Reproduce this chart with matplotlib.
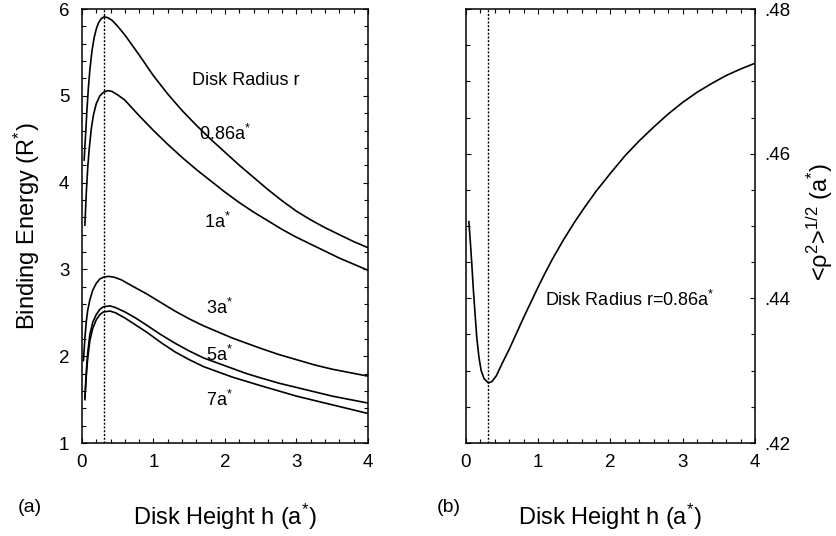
import matplotlib
matplotlib.use('Agg')
import matplotlib.pyplot as plt
from matplotlib.ticker import MultipleLocator, FuncFormatter

plt.rcParams['font.family'] = ['Liberation Sans', 'DejaVu Sans']
plt.rcParams['mathtext.fontset'] = 'custom'
plt.rcParams['mathtext.rm'] = 'Liberation Sans'
plt.rcParams['mathtext.it'] = 'Liberation Sans:italic'
plt.rcParams['mathtext.bf'] = 'Liberation Sans:bold'

# (a) binding energy vs disk height, one curve per disk radius
h_086 = [0.03, 0.05, 0.07, 0.09, 0.11, 0.14, 0.17, 0.2, 0.23, 0.27, 0.31, 0.36, 0.42, 0.5, 0.6, 0.8, 1.0,
         1.2, 1.4, 1.6, 1.8, 2.0, 2.2, 2.4, 2.6, 2.8, 3.0, 3.2, 3.4, 3.6, 3.8, 4.0]
E_086 = [4.26, 4.55, 4.85, 5.10, 5.30, 5.52, 5.67, 5.77, 5.84, 5.89, 5.91, 5.90, 5.87, 5.80, 5.70, 5.47, 5.23,
         5.02, 4.83, 4.66, 4.50, 4.35, 4.20, 4.06, 3.92, 3.79, 3.67, 3.57, 3.48, 3.40, 3.32, 3.25]

h_1 = [0.04, 0.06, 0.08, 0.1, 0.13, 0.16, 0.2, 0.25, 0.3, 0.36, 0.42, 0.5, 0.6, 0.8, 1.0, 1.2, 1.4, 1.6,
       1.8, 2.0, 2.2, 2.4, 2.6, 2.8, 3.0, 3.2, 3.4, 3.6, 3.8, 4.0]
E_1 = [3.51, 3.88, 4.17, 4.38, 4.62, 4.78, 4.91, 5.00, 5.04, 5.06, 5.05, 5.01, 4.95, 4.77, 4.60, 4.44, 4.29, 4.15,
       4.02, 3.89, 3.77, 3.66, 3.56, 3.46, 3.37, 3.29, 3.21, 3.13, 3.06, 2.99]

h_3 = [0.02, 0.04, 0.06, 0.08, 0.11, 0.15, 0.2, 0.25, 0.3, 0.37, 0.45, 0.55, 0.7, 0.9, 1.1, 1.3, 1.5, 1.7,
       1.9, 2.1, 2.3, 2.5, 2.75, 3.0, 3.25, 3.5, 3.75, 4.0]
E_3 = [1.95, 2.20, 2.40, 2.53, 2.65, 2.76, 2.84, 2.89, 2.91, 2.92, 2.91, 2.88, 2.81, 2.72, 2.62, 2.52, 2.43, 2.35,
       2.28, 2.21, 2.15, 2.09, 2.02, 1.96, 1.90, 1.85, 1.81, 1.77]

h_5 = [0.04, 0.06, 0.08, 0.11, 0.15, 0.2, 0.25, 0.3, 0.39, 0.47, 0.6, 0.75, 0.9, 1.1, 1.3, 1.5, 1.7, 1.9,
       2.1, 2.3, 2.5, 2.75, 3.0, 3.25, 3.5, 3.75, 4.0]
E_5 = [1.52, 1.82, 2.04, 2.25, 2.39, 2.48, 2.54, 2.57, 2.58, 2.56, 2.51, 2.44, 2.36, 2.25, 2.15, 2.06, 1.98, 1.92,
       1.86, 1.80, 1.75, 1.69, 1.64, 1.59, 1.54, 1.50, 1.46]

h_7 = [0.04, 0.06, 0.08, 0.11, 0.15, 0.2, 0.25, 0.3, 0.39, 0.47, 0.6, 0.75, 0.9, 1.1, 1.3, 1.5, 1.7, 1.9,
       2.1, 2.3, 2.5, 2.75, 3.0, 3.25, 3.5, 3.75, 4.0]
E_7 = [1.50, 1.77, 1.98, 2.18, 2.32, 2.42, 2.48, 2.51, 2.52, 2.50, 2.44, 2.36, 2.28, 2.16, 2.05, 1.96, 1.88, 1.82,
       1.76, 1.71, 1.66, 1.60, 1.54, 1.49, 1.44, 1.39, 1.34]

curve_labels = ['0.86a$^{*}$', '1a$^{*}$', '3a$^{*}$', '5a$^{*}$', '7a$^{*}$']
label_h = [1.64, 1.71, 1.73, 1.73, 1.73]
label_E = [4.56, 3.55, 2.56, 2.01, 1.50]

# (b) <rho^2>^(1/2) vs disk height, r = 0.86a*
h_rho = [0.04, 0.06, 0.08, 0.1, 0.125, 0.15, 0.18, 0.21, 0.25, 0.31, 0.36, 0.42, 0.5, 0.6, 0.7, 0.8, 0.9,
         1.0, 1.1, 1.2, 1.35, 1.5, 1.65, 1.8, 2.0, 2.2, 2.4, 2.6, 2.8, 3.0, 3.2, 3.4, 3.6, 3.8, 4.0]
rho = [0.4506, 0.4478, 0.4448, 0.4415, 0.4379, 0.4345, 0.4318, 0.4300, 0.4289, 0.4283, 0.4285, 0.4293,
       0.4310, 0.4330, 0.4352, 0.4374, 0.4395, 0.4416, 0.4436, 0.4455, 0.4481, 0.4505, 0.4527, 0.4548,
       0.4573, 0.4597, 0.4618, 0.4637, 0.4655, 0.4671, 0.4685, 0.4697, 0.4708, 0.4717, 0.4725]

h_opt = 0.31

fig = plt.figure(figsize=(8.37, 5.36), dpi=100)
W, H = 837, 536
ax1 = fig.add_axes([82 / W, 1 - 443 / H, 286 / W, 434 / H])
ax2 = fig.add_axes([466 / W, 1 - 443 / H, 289 / W, 434 / H])

lw = 1.2
for hh, ee in [(h_086, E_086), (h_1, E_1), (h_3, E_3), (h_5, E_5), (h_7, E_7)]:
    ax1.plot(hh, ee, color='black', lw=lw)
ax1.axvline(h_opt, color='black', lw=1, linestyle=(0, (1.5, 1.2)))
ax1.set_xlim(0, 4)
ax1.set_ylim(1, 6)
ax1.xaxis.set_major_locator(MultipleLocator(1))
ax1.xaxis.set_minor_locator(MultipleLocator(0.2))
ax1.yaxis.set_major_locator(MultipleLocator(1))
ax1.yaxis.set_minor_locator(MultipleLocator(0.2))
ax1.text(2.29, 5.18, 'Disk Radius r', ha='center', va='center', fontsize=13)
for txt, x, y in zip(curve_labels, label_h, label_E):
    ax1.text(x, y, txt, ha='left', va='center', fontsize=13)

ax2.plot(h_rho, rho, color='black', lw=lw)
ax2.axvline(h_opt, color='black', lw=1, linestyle=(0, (1.5, 1.2)))
ax2.set_xlim(0, 4)
ax2.set_ylim(0.42, 0.48)
ax2.xaxis.set_major_locator(MultipleLocator(1))
ax2.xaxis.set_minor_locator(MultipleLocator(0.2))
ax2.yaxis.set_major_locator(MultipleLocator(0.02))
ax2.yaxis.set_minor_locator(MultipleLocator(0.005))
ax2.yaxis.set_major_formatter(FuncFormatter(lambda v, p: ('%.2f' % v).lstrip('0')))
ax2.text(1.09, 0.4398, 'Disk Radius r=0.86a$^{*}$', ha='left', va='center', fontsize=13)

for ax in (ax1, ax2):
    for s in ax.spines.values():
        s.set_linewidth(1.1)
    ax.tick_params(which='both', direction='in', top=True, bottom=True, left=True, right=True,
                   width=0.8, labelsize=13.5)
    ax.tick_params(which='major', length=3.5)
    ax.tick_params(which='minor', length=3)
    ax.tick_params(axis='x', pad=8)
ax1.tick_params(axis='y', pad=9)
ax2.tick_params(axis='y', labelleft=False, labelright=True, pad=7)

fig.text(225 / W, 1 - 517 / H, 'Disk Height h (a$^{*}$)', ha='center', va='center', fontsize=17)
fig.text(610 / W, 1 - 517 / H, 'Disk Height h (a$^{*}$)', ha='center', va='center', fontsize=17)
fig.text(27 / W, 1 - 226 / H, 'Binding Energy (R$^{*}$)', ha='center', va='center', rotation=90, fontsize=17)
fig.text(820 / W, 1 - 222 / H, '<ρ$^{2}$>$^{1/2}$ (a$^{*}$)', ha='center', va='center', rotation=90, fontsize=17)
fig.text(30 / W, 1 - 508 / H, '(a)', ha='center', va='center', fontsize=14)
fig.text(449 / W, 1 - 508 / H, '(b)', ha='center', va='center', fontsize=14)

fig.savefig('out.png', dpi=100)
